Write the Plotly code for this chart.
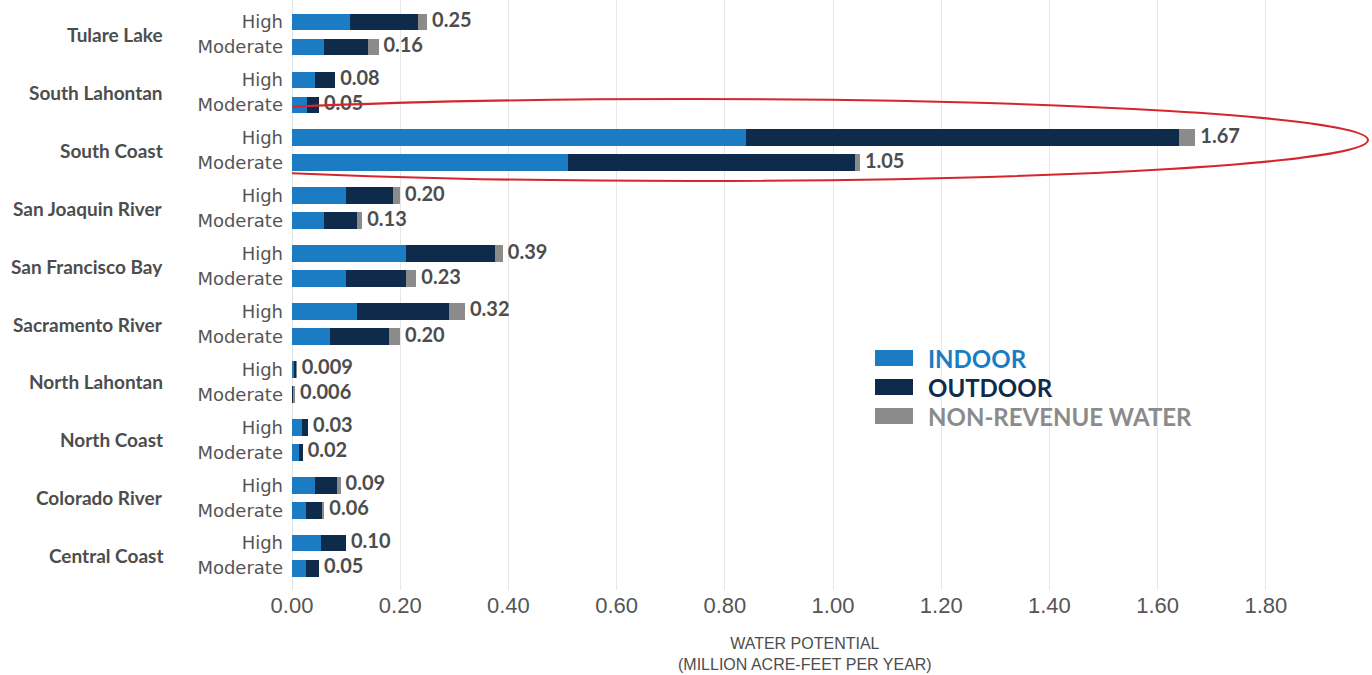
import plotly.graph_objects as go

# Hydrologic regions, top to bottom
regions = ["Tulare Lake", "South Lahontan", "South Coast", "San Joaquin River",
           "San Francisco Bay", "Sacramento River", "North Lahontan",
           "North Coast", "Colorado River", "Central Coast"]

# Water savings potential (million acre-feet per year), "High" scenario
indoor_high = [0.108, 0.042, 0.84, 0.10, 0.21, 0.12, 0.003, 0.018, 0.043, 0.053]
outdoor_high = [0.124, 0.038, 0.80, 0.087, 0.165, 0.17, 0.005, 0.012, 0.040, 0.047]
nrw_high = [0.018, 0.0, 0.03, 0.013, 0.015, 0.03, 0.001, 0.0, 0.007, 0.0]
labels_high = ["0.25", "0.08", "1.67", "0.20", "0.39", "0.32", "0.009", "0.03", "0.09", "0.10"]

# "Moderate" scenario
indoor_mod = [0.06, 0.027, 0.51, 0.06, 0.10, 0.07, 0.001, 0.013, 0.026, 0.026]
outdoor_mod = [0.08, 0.023, 0.53, 0.06, 0.11, 0.11, 0.001, 0.007, 0.029, 0.024]
nrw_mod = [0.02, 0.0, 0.01, 0.01, 0.02, 0.02, 0.004, 0.0, 0.005, 0.0]
labels_mod = ["0.16", "0.05", "1.05", "0.13", "0.23", "0.20", "0.006", "0.02", "0.06", "0.05"]

x_ticks = [0.0, 0.2, 0.4, 0.6, 0.8, 1.0, 1.2, 1.4, 1.6, 1.8]

C_IN = "#1b7cc4"
C_OUT = "#0e2b4b"
C_NRW = "#8b8b8b"
TXT = "#4d4d4d"
FONT = "Lato"

W, H = 1372, 675
ML, MB, MT = 292, 85, 0
PW, PH = W - ML, H - MB - MT
PX_PER_UNIT = 541.0
PX_PER_GROUP = 57.9
OFF = 0.216
BW = 0.29

n = len(regions)
y_high = [i - OFF for i in range(n)]
y_mod = [i + OFF for i in range(n)]
ys = y_high + y_mod

fig = go.Figure()
for name, hi, mo, col in [("INDOOR", indoor_high, indoor_mod, C_IN),
                          ("OUTDOOR", outdoor_high, outdoor_mod, C_OUT),
                          ("NON-REVENUE WATER", nrw_high, nrw_mod, C_NRW)]:
    fig.add_trace(go.Bar(x=hi + mo, y=ys, orientation="h", width=BW,
                         marker=dict(color=col, line=dict(width=0)),
                         name=name, showlegend=False))

tot_high = [a + b + c for a, b, c in zip(indoor_high, outdoor_high, nrw_high)]
tot_mod = [a + b + c for a, b, c in zip(indoor_mod, outdoor_mod, nrw_mod)]
fig.add_trace(go.Scatter(x=tot_high + tot_mod, y=ys, mode="text",
                         text=[" " + t for t in labels_high + labels_mod],
                         textposition="middle right",
                         textfont=dict(family=FONT, size=20, color=TXT, weight="bold"),
                         showlegend=False, hoverinfo="skip", cliponaxis=False))

y_top = -34.5 / PX_PER_GROUP
y_bot = y_top + PH / PX_PER_GROUP
x_max = PW / PX_PER_UNIT

# Region labels to the left of the scenario labels
annotations = []
for i, r in enumerate(regions):
    annotations.append(dict(text=r, x=(165 - ML) / PW, xref="paper", xanchor="right",
                            y=i, yref="y", yanchor="middle", showarrow=False,
                            font=dict(family=FONT, size=19, color=TXT, weight="bold")))

# Axis title
annotations.append(dict(text="WATER POTENTIAL<br>(MILLION ACRE-FEET PER YEAR)",
                        x=(805 - ML) / PW, xref="paper", xanchor="center",
                        y=-(633 - PH) / PH, yref="paper", yanchor="top", showarrow=False,
                        font=dict(family="Liberation Sans", size=16, color=TXT)))

# Legend drawn as swatches + coloured labels
shapes = []
legend_items = [("INDOOR", C_IN, 358), ("OUTDOOR", C_OUT, 387), ("NON-REVENUE WATER", C_NRW, 416)]
for label, col, py in legend_items:
    shapes.append(dict(type="rect", xref="paper", yref="paper",
                       x0=(875 - ML) / PW, x1=(913 - ML) / PW,
                       y0=1 - (py - 8) / PH, y1=1 - (py + 8) / PH,
                       fillcolor=col, line=dict(width=0)))
    annotations.append(dict(text=label, x=(926 - ML) / PW, xref="paper", xanchor="left",
                            y=1 - py / PH, yref="paper", yanchor="middle", showarrow=False,
                            font=dict(family=FONT, size=24, color=col, weight="bold")))

# Red ellipse highlighting South Coast
shapes.append(dict(type="circle", xref="x", yref="y",
                   x0=(13 - ML) / PX_PER_UNIT, x1=(1368 - ML) / PX_PER_UNIT,
                   y0=y_top + 99 / PX_PER_GROUP, y1=y_top + 181 / PX_PER_GROUP,
                   line=dict(color="#d3272d", width=2), fillcolor="rgba(0,0,0,0)",
                   layer="above"))

fig.update_layout(
    width=W, height=H,
    margin=dict(l=ML, r=0, t=MT, b=MB, pad=0),
    paper_bgcolor="white", plot_bgcolor="white",
    barmode="stack", bargap=0,
    showlegend=False,
    annotations=annotations, shapes=shapes,
    xaxis=dict(range=[0, x_max], tickvals=x_ticks,
               ticktext=["%.2f" % v for v in x_ticks],
               showgrid=True, gridcolor="#e6e6e6", gridwidth=1,
               zeroline=True, zerolinecolor="#e2e2e2", zerolinewidth=1,
               showline=False, ticks="",
               tickfont=dict(family="Liberation Sans", size=22, color="#555555")),
    yaxis=dict(range=[y_bot, y_top], tickvals=ys,
               ticktext=["High"] * n + ["Moderate"] * n,
               showgrid=False, zeroline=False, showline=False, ticks="",
               ticklabelstandoff=8,
               tickfont=dict(family="DejaVu Sans", size=18, color="#555555")),
)

fig.write_html("out.html")
